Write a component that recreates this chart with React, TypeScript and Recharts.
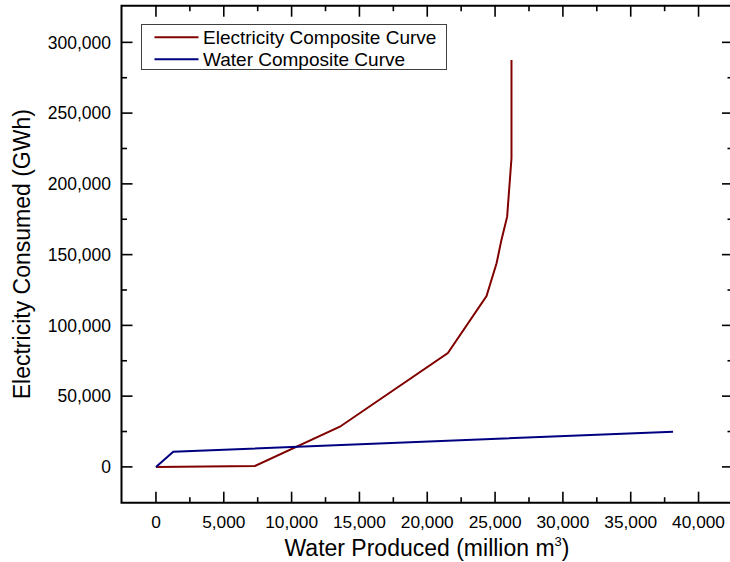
import React from 'react';
import { LineChart, Line, XAxis, YAxis, ReferenceArea, Legend } from 'recharts';

// ---- data ----
const electricityX = [0, 7300, 13560, 21520, 24370, 25110, 25470, 25890, 26210, 26210];
const electricityY = [0, 700, 28400, 80500, 120800, 143900, 160400, 176800, 218100, 287600];
const waterX = [0, 1275, 38120];
const waterY = [0, 10740, 24880];
const xTicks = [0, 2500, 5000, 7500, 10000, 12500, 15000, 17500, 20000, 22500, 25000, 27500, 30000, 32500, 35000, 37500, 40000];
const yTicks = [0, 25000, 50000, 75000, 100000, 125000, 150000, 175000, 200000, 225000, 250000, 275000, 300000];
const X_MAJOR = 5000;
const Y_MAJOR = 50000;
const X_DOMAIN: [number, number] = [-2540, 42540];
const Y_DOMAIN: [number, number] = [-25300, 325900];
const seriesNames = ['Electricity Composite Curve', 'Water Composite Curve'];
const seriesColors = ['#800000', '#000080'];
const xTitle = 'Water Produced (million m';
const yTitle = 'Electricity Consumed (GWh)';

const electricityData = electricityX.map((x, i) => ({ x, y: electricityY[i] }));
const waterData = waterX.map((x, i) => ({ x, y: waterY[i] }));

// ---- layout ----
const CHART_W = 733;
const CHART_H = 562;
const PLOT_LEFT = 121.5;
const PLOT_TOP = 5.7;
const PLOT_BOTTOM = 502.7;
const PLOT_H = PLOT_BOTTOM - PLOT_TOP;
const PLOT_W = CHART_W - PLOT_LEFT;
const FONT = '"Liberation Sans", Arial, sans-serif';
const fmt = (v: number) => v.toLocaleString('en-US');

const XTick = (props: any) => {
  const { x, y, payload } = props;
  const v = payload.value;
  const major = v % X_MAJOR === 0;
  const len = major ? 11 : 5.5;
  return (
    <g>
      <line x1={x} x2={x} y1={y} y2={y - len} stroke="#000" strokeWidth={1.6} />
      <line x1={x} x2={x} y1={y - PLOT_H} y2={y - PLOT_H + len} stroke="#000" strokeWidth={1.6} />
      {major && (
        <text x={x} y={y + 25.5} textAnchor="middle" fontSize={17.3} fill="#000" fontFamily={FONT}>
          {fmt(v)}
        </text>
      )}
    </g>
  );
};

const YTick = (props: any) => {
  const { x, y, payload } = props;
  const v = payload.value;
  const major = v % Y_MAJOR === 0;
  const len = major ? 11 : 5.5;
  return (
    <g>
      <line x1={x} x2={x + len} y1={y} y2={y} stroke="#000" strokeWidth={1.6} />
      <line x1={x + PLOT_W} x2={x + PLOT_W - len} y1={y} y2={y} stroke="#000" strokeWidth={1.6} />
      {major && (
        <text x={x - 10.5} y={y} dy="0.36em" textAnchor="end" fontSize={17.5} fill="#000" fontFamily={FONT}>
          {fmt(v)}
        </text>
      )}
    </g>
  );
};

const XTitle = () => (
  <text x={427} y={556} textAnchor="middle" fontSize={23} fill="#000" fontFamily={FONT}>
    {xTitle}
    <tspan fontSize={13} dy={-10}>3</tspan>
    <tspan dy={10}>)</tspan>
  </text>
);

const YTitle = () => (
  <text
    x={30}
    y={(PLOT_TOP + PLOT_BOTTOM) / 2}
    transform={`rotate(-90, 30, ${(PLOT_TOP + PLOT_BOTTOM) / 2})`}
    textAnchor="middle"
    fontSize={23}
    fill="#000"
    fontFamily={FONT}
  >
    {yTitle}
  </text>
);

const LegendBox = () => (
  <svg width={306} height={46} style={{ display: 'block' }}>
    <rect x={0.5} y={0.5} width={305} height={45} fill="#fff" stroke="#404040" strokeWidth={1} />
    {seriesNames.map((n, i) => (
      <g key={n}>
        <line x1={13.5} x2={57.5} y1={13.3 + i * 22} y2={13.3 + i * 22} stroke={seriesColors[i]} strokeWidth={2} />
        <text x={62} y={13.3 + i * 22} dy="0.36em" fontSize={19} fill="#000" fontFamily={FONT}>
          {n}
        </text>
      </g>
    ))}
  </svg>
);

export default function App() {
  return (
    <div style={{ position: 'absolute', left: 0, top: 0, width: 730, height: 562, overflow: 'hidden', background: '#fff' }}>
      <LineChart width={CHART_W} height={CHART_H} margin={{ top: PLOT_TOP, right: 0, bottom: 0, left: 0 }}>
        <XAxis
          dataKey="x"
          type="number"
          domain={X_DOMAIN}
          ticks={xTicks}
          interval={0}
          allowDataOverflow
          axisLine={false}
          tickLine={false}
          tickSize={0}
          tickMargin={0}
          tick={<XTick />}
          height={CHART_H - PLOT_BOTTOM}
          label={<XTitle />}
        />
        <YAxis
          dataKey="y"
          type="number"
          domain={Y_DOMAIN}
          ticks={yTicks}
          interval={0}
          allowDataOverflow
          axisLine={false}
          tickLine={false}
          tickSize={0}
          tickMargin={0}
          tick={<YTick />}
          width={PLOT_LEFT}
          label={<YTitle />}
        />
        <ReferenceArea
          x1={X_DOMAIN[0]}
          x2={X_DOMAIN[1]}
          y1={Y_DOMAIN[0]}
          y2={Y_DOMAIN[1]}
          fill="none"
          fillOpacity={0}
          stroke="#000"
          strokeWidth={2}
          ifOverflow="visible"
        />
        <Line
          data={electricityData}
          dataKey="y"
          name={seriesNames[0]}
          type="linear"
          stroke={seriesColors[0]}
          strokeWidth={2}
          dot={false}
          activeDot={false}
          isAnimationActive={false}
        />
        <Line
          data={waterData}
          dataKey="y"
          name={seriesNames[1]}
          type="linear"
          stroke={seriesColors[1]}
          strokeWidth={2}
          dot={false}
          activeDot={false}
          isAnimationActive={false}
        />
        <Legend
          layout="vertical"
          align="center"
          verticalAlign="middle"
          content={<LegendBox />}
          wrapperStyle={{ position: 'absolute', left: 141, top: 24, width: 306, height: 46, margin: 0, padding: 0 }}
        />
      </LineChart>
    </div>
  );
}
